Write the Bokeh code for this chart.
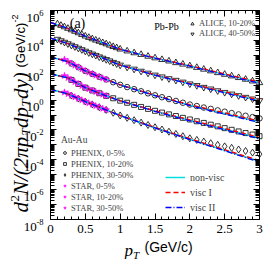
import numpy as np
from bokeh.plotting import figure
from bokeh.models import FixedTicker, LinearAxis, LogAxis, Label, Legend, LegendItem, Range1d
from bokeh.embed import file_html
from bokeh.resources import INLINE

# ---------------- data ----------------
alice_pt = [0.10, 0.15, 0.20, 0.25, 0.30, 0.35, 0.40, 0.45, 0.50, 0.55, 0.60, 0.65, 0.70, 0.75,
            0.80, 0.85, 0.90, 0.95, 1.00, 1.1, 1.2, 1.3, 1.4, 1.5, 1.6, 1.7, 1.8, 1.9, 2.0,
            2.1, 2.2, 2.3, 2.4, 2.5, 2.6, 2.7, 2.8, 2.9, 3.0]
alice_1020 = [1.26e5, 1.00e5, 7.94e4, 6.31e4, 5.01e4, 3.98e4, 3.16e4, 2.45e4, 1.91e4, 1.55e4,
              1.26e4, 1.02e4, 8.51e3, 6.92e3, 5.75e3, 4.68e3, 3.80e3, 3.16e3, 2.57e3,
              1.91e3, 1.45e3, 1.12e3, 851, 661, 513, 407, 316, 251, 195, 151, 115, 89.1,
              67.6, 52.5, 40.7, 31.6, 24.5, 18.6, 14.5]
alice_4050 = [1.20e4, 9.55e3, 7.59e3, 6.03e3, 4.79e3, 3.80e3, 3.02e3, 2.40e3, 1.91e3, 1.51e3,
              1.23e3, 1.00e3, 794, 646, 525, 427, 339, 275, 224,
              162, 120, 87.1, 64.6, 47.9, 36.3, 27.5, 21.4, 16.2, 12.3, 9.55, 7.24, 5.62,
              4.27, 3.31, 2.57, 2.00, 1.55, 1.20, 0.933]

phenix_pt = [0.3, 0.4, 0.5, 0.6, 0.7, 0.8, 0.9, 1.0, 1.1, 1.2, 1.3, 1.4, 1.5, 1.6, 1.7, 1.8,
             1.9, 2.0, 2.1, 2.2, 2.3, 2.4, 2.5, 2.6, 2.7, 2.8, 2.9, 3.0]
phenix_0005 = [282, 158, 89.1, 56.2, 36.3, 24.0, 15.8, 10.5, 7.41, 5.37, 3.89, 2.82, 2.09, 1.55,
               1.17, 0.871, 0.661, 0.501, 0.398, 0.316, 0.257, 0.204, 0.166, 0.135, 0.110,
               0.0891, 0.0724, 0.0589]
phenix_1020 = [22.4, 12.0, 6.76, 4.37, 2.88, 1.91, 1.32, 0.912, 0.661, 0.479, 0.347, 0.257,
               0.191, 0.145, 0.110, 0.0851, 0.0646, 0.0501, 0.0380, 0.0295, 0.0224, 0.0174,
               0.0132, 0.0102, 0.00794, 0.00617, 0.00490, 0.00380]
phenix_3050 = [2.00, 1.26, 0.794, 0.513, 0.331, 0.219, 0.141, 0.0933, 0.0646, 0.0447, 0.0309,
               0.0214, 0.0151, 0.0107, 0.00759, 0.00537, 0.00380, 0.00275, 0.00214, 0.00166,
               0.00129, 0.00100, 7.94e-4, 6.31e-4, 4.90e-4, 3.89e-4, 3.02e-4, 2.40e-4]

star_pt = [0.20, 0.25, 0.30, 0.35, 0.40, 0.45, 0.50, 0.55, 0.60, 0.65, 0.70, 0.75, 0.80]
star_0005 = [525, 380, 282, 209, 158, 117, 89.1, 70.8, 56.2, 44.7, 36.3, 29.5, 24.0]
star_1020 = [42.7, 30.9, 22.4, 16.2, 12.0, 8.91, 6.76, 5.37, 4.37, 3.55, 2.88, 2.34, 1.91]
star_3050 = [3.31, 2.57, 2.00, 1.58, 1.26, 1.00, 0.794, 0.631, 0.513, 0.407, 0.331, 0.269, 0.219]

model_pt = [0.0, 0.25, 0.5, 0.75, 1.0, 1.25, 1.5, 1.75, 2.0, 2.25, 2.5, 2.75, 3.0]
nonvisc_alice1020 = [1.58e5, 6.31e4, 1.91e4, 6.92e3, 2.57e3, 1.26e3, 661, 355, 195, 100, 52.5, 27.5, 14.5]
nonvisc_alice4050 = [1.41e4, 6.03e3, 1.91e3, 646, 224, 102, 47.9, 24.0, 12.3, 6.31, 3.31, 1.74, 0.891]
nonvisc_0005 = [759, 380, 89.1, 29.5, 10.5, 4.57, 2.00, 0.955, 0.457, 0.240, 0.126, 0.0661, 0.0347]
nonvisc_1020 = [56.2, 30.9, 6.76, 2.34, 0.912, 0.407, 0.182, 0.0891, 0.0437, 0.0224, 0.0112, 0.00575, 0.00282]
nonvisc_3050 = [5.25, 2.57, 0.794, 0.269, 0.0933, 0.0363, 0.0141, 0.00575, 0.00240, 0.00102, 4.27e-4, 1.82e-4, 7.94e-5]

visc1_alice1020 = [1.58e5, 6.31e4, 1.91e4, 6.92e3, 2.57e3, 1.28e3, 676, 367, 204, 106, 56.2, 29.5, 15.8]
visc1_alice4050 = [1.41e4, 6.03e3, 1.91e3, 646, 224, 104, 49.0, 25.1, 12.9, 6.76, 3.55, 1.91, 1.00]
visc1_0005 = [759, 380, 89.1, 29.5, 10.5, 4.68, 2.09, 1.00, 0.490, 0.257, 0.138, 0.0724, 0.0389]
visc1_1020 = [56.2, 30.9, 6.76, 2.34, 0.912, 0.417, 0.191, 0.0933, 0.0468, 0.0240, 0.0123, 0.00631, 0.00316]
visc1_3050 = [5.25, 2.57, 0.794, 0.269, 0.0933, 0.0372, 0.0148, 0.00603, 0.00257, 0.00110, 4.68e-4, 2.00e-4, 8.91e-5]

visc2_alice1020 = [1.58e5, 6.31e4, 1.91e4, 6.92e3, 2.54e3, 1.24e3, 646, 344, 186, 95.5, 49.0, 25.1, 13.2]
visc2_alice4050 = [1.41e4, 6.03e3, 1.91e3, 646, 221, 100, 46.8, 23.4, 11.7, 5.89, 3.02, 1.58, 0.813]
visc2_0005 = [759, 380, 89.1, 29.5, 10.2, 4.47, 1.95, 0.912, 0.427, 0.219, 0.115, 0.0603, 0.0309]
visc2_1020 = [56.2, 30.9, 6.76, 2.34, 0.891, 0.398, 0.174, 0.0832, 0.0407, 0.0204, 0.0102, 0.00513, 0.00251]
visc2_3050 = [5.25, 2.57, 0.794, 0.269, 0.0912, 0.0355, 0.0135, 0.00550, 0.00224, 9.55e-4, 3.98e-4, 1.66e-4, 7.08e-5]

x_major = [0, 0.5, 1, 1.5, 2, 2.5, 3]
x_labels = ["0", "0.5", "1", "1.5", "2", "2.5", "3"]
y_label_exps = [6, 4, 2, 0, -2, -4, -6, -8]

SERIF = "Liberation Serif"
SANS = "Liberation Sans"
CYAN = "#00dede"
RED = "#ff0000"
BLUE = "#0000ff"
MAG = "#ff00ff"

# ---------------- geometry: plot box inside a full-canvas frame ----------------
W, H = 266, 259
BOX_L, BOX_R, BOX_T, BOX_B = 50, 259, 10, 219      # pixel edges of the drawn plot box
XMIN, XMAX = 0.0, 3.0
YMIN_E, YMAX_E = -8, 6
ppx = (BOX_R - BOX_L) / (XMAX - XMIN)
ppd = (BOX_B - BOX_T) / (YMAX_E - YMIN_E)
x_range = Range1d(XMIN - BOX_L / ppx, XMAX + (W - BOX_R) / ppx)
y_range = Range1d(10 ** (YMIN_E - (H - BOX_B) / ppd), 10 ** (YMAX_E + BOX_T / ppd))

p = figure(width=W, height=H, x_range=x_range, y_range=y_range, y_axis_type="log",
           output_backend="svg", toolbar_location=None,
           min_border_left=0, min_border_right=0, min_border_top=0, min_border_bottom=0)
p.outline_line_color = None
p.grid.visible = False
p.background_fill_color = "white"

x_minor = [round(0.1 * i, 2) for i in range(31) if i % 5 != 0]
y_major = [10.0 ** e for e in range(YMIN_E, YMAX_E + 1)]
y_minor = [m * 10.0 ** e for e in range(YMIN_E, YMAX_E) for m in range(2, 10)]
xt = FixedTicker(ticks=x_major, minor_ticks=x_minor)
yt = FixedTicker(ticks=y_major, minor_ticks=y_minor)

bottom_ax = p.xaxis[0]
left_ax = p.yaxis[0]
top_ax = LinearAxis()
right_ax = LogAxis()
p.add_layout(top_ax, "above")
p.add_layout(right_ax, "right")

bottom_ax.fixed_location = 10.0 ** YMIN_E
top_ax.fixed_location = 10.0 ** YMAX_E
left_ax.fixed_location = XMIN
right_ax.fixed_location = XMAX
for ax in [bottom_ax, top_ax]:
    ax.ticker = xt
    ax.bounds = (XMIN, XMAX)
for ax in [left_ax, right_ax]:
    ax.ticker = yt
    ax.bounds = (10.0 ** YMIN_E, 10.0 ** YMAX_E)

for ax in [bottom_ax, top_ax, left_ax, right_ax]:
    ax.major_tick_in = 6
    ax.major_tick_out = 0
    ax.minor_tick_in = 3
    ax.minor_tick_out = 0
    ax.axis_line_color = "black"
    ax.axis_line_width = 1
    ax.major_tick_line_color = "black"
    ax.minor_tick_line_color = "black"
left_ax.minor_tick_in = 4
right_ax.minor_tick_in = 4

bottom_ax.major_label_overrides = {k: v for k, v in zip(x_major, x_labels)}
bottom_ax.major_label_text_font = SERIF
bottom_ax.major_label_text_font_size = "13px"
bottom_ax.major_label_text_color = "black"
bottom_ax.major_label_standoff = 5
for ax in [top_ax, left_ax, right_ax]:
    ax.major_label_text_font_size = "1px"
    ax.major_label_text_color = None
    ax.major_label_standoff = 0

# ---------------- data markers ----------------
mk = dict(fill_color=None, line_color="black", line_width=0.8)
r_a1 = p.scatter(alice_pt, alice_1020, marker="triangle", size=6.5, **mk)
r_a2 = p.scatter(alice_pt, alice_4050, marker="inverted_triangle", size=6.5, **mk)
r_p1 = p.scatter(phenix_pt, phenix_0005, marker="circle", size=5.5, **mk)
r_p2 = p.scatter(phenix_pt, phenix_1020, marker="square", size=5, **mk)
r_p3 = p.scatter(phenix_pt, phenix_3050, marker="diamond", size=7, **mk)
sk = dict(marker="star", size=7, fill_color=MAG, line_color=MAG, line_width=0.5)
r_s1 = p.scatter(star_pt, star_0005, **sk)
r_s2 = p.scatter(star_pt, star_1020, **sk)
r_s3 = p.scatter(star_pt, star_3050, **sk)

# ---------------- model curves ----------------
nv = [nonvisc_alice1020, nonvisc_alice4050, nonvisc_0005, nonvisc_1020, nonvisc_3050]
v1 = [visc1_alice1020, visc1_alice4050, visc1_0005, visc1_1020, visc1_3050]
v2 = [visc2_alice1020, visc2_alice4050, visc2_0005, visc2_1020, visc2_3050]
r_nv = r_v1 = r_v2 = None
for a, b, c in zip(nv, v1, v2):
    l0 = p.line(model_pt, a, line_color=CYAN, line_width=1.5)
    l1 = p.line(model_pt, b, line_color=RED, line_width=1.5, line_dash="5 3")
    l2 = p.line(model_pt, c, line_color=BLUE, line_width=1.3, line_dash="6 2 1 2")
    if r_nv is None:
        r_nv, r_v1, r_v2 = l0, l1, l2

# ---------------- legends (locations in canvas pixels, from bottom-left) ----------------
common = dict(background_fill_alpha=0, border_line_alpha=0, padding=1, margin=0,
              label_text_font=SERIF, orientation="vertical")
leg_alice = Legend(items=[LegendItem(label="ALICE, 10-20%", renderers=[r_a1]),
                          LegendItem(label="ALICE, 40-50%", renderers=[r_a2])],
                   location=(187, 220), glyph_width=8, glyph_height=9, label_height=9,
                   spacing=0, label_standoff=3, label_text_font_size="8.5px", **common)
leg_auau = Legend(items=[LegendItem(label="PHENIX, 0-5%", renderers=[r_p1]),
                         LegendItem(label="PHENIX, 10-20%", renderers=[r_p2]),
                         LegendItem(label="PHENIX, 30-50%", renderers=[r_p3]),
                         LegendItem(label="STAR, 0-5%", renderers=[r_s1]),
                         LegendItem(label="STAR, 10-20%", renderers=[r_s2]),
                         LegendItem(label="STAR, 30-50%", renderers=[r_s3])],
                  location=(60, 45), glyph_width=7, glyph_height=11, label_height=11,
                  spacing=0, label_standoff=3, label_text_font_size="8.5px",
                  title="Au-Au", title_text_font=SERIF, title_text_font_size="9.5px",
                  title_text_font_style="normal", title_standoff=2, **common)
leg_model = Legend(items=[LegendItem(label="non-visc", renderers=[r_nv]),
                          LegendItem(label="visc I", renderers=[r_v1]),
                          LegendItem(label="visc II", renderers=[r_v2])],
                   location=(164, 44), glyph_width=20, glyph_height=14, label_height=14,
                   spacing=1, label_standoff=5, label_text_font_size="10px", **common)
for lg in [leg_alice, leg_auau, leg_model]:
    p.add_layout(lg)


def lab(x, y, xo, yo, text, size, font=SERIF, style="normal", align="left",
        baseline="alphabetic", angle=0.0):
    p.add_layout(Label(x=x, y=y, x_offset=xo, y_offset=yo, text=text, text_font=font,
                       text_font_size=size, text_font_style=style, text_align=align,
                       text_baseline=baseline, angle=angle, text_color="black"))


# y tick labels: "10" with superscript exponent
for e in y_label_exps:
    sup = str(e)
    supw = 4.0 * len(str(abs(e))) + (2.7 if e < 0 else 0)
    lab(XMIN, 10.0 ** e, -7 - supw, -7, "10", "13px", align="right")
    lab(XMIN, 10.0 ** e, -7, -2, sup, "8.5px", align="right")

# annotations inside the box
lab(XMIN, 10.0 ** YMAX_E, 27, -13, "(a)", "14px", align="center")
lab(XMIN, 10.0 ** YMAX_E, 116, -15.5, "Pb-Pb", "10px", align="center")

# x-axis title
lab(XMIN, 10.0 ** YMIN_E, 74, -31, "p", "17px", style="italic")
lab(XMIN, 10.0 ** YMIN_E, 82.5, -35, "T", "11px", style="italic")
lab(XMIN, 10.0 ** YMIN_E, 94, -27, "(GeV/c)", "14px", font=SANS)

# y-axis title (rotated pieces)
A = np.pi / 2
base, supx, subx = -30, -36, -25
pieces = [
    ("d", "21px", SERIF, "italic", base, 7),
    ("2", "13px", SERIF, "normal", supx, 18),
    ("N/(2\u03c0p", "21px", SERIF, "italic", base, 24.5),
    ("T", "13px", SERIF, "italic", subx, 84),
    ("dp", "21px", SERIF, "italic", base, 91.5),
    ("T", "13px", SERIF, "italic", subx, 113),
    ("dy)", "21px", SERIF, "italic", base, 120.5),
    ("(GeV/c)", "13px", SANS, "normal", base, 152),
    ("-2", "9px", SANS, "normal", supx, 197),
]
for t, sz, f, st, xo, yo in pieces:
    lab(XMIN, 10.0 ** YMIN_E, xo, yo, t, sz, font=f, style=st, angle=A)

open("out.html", "w").write(file_html(p, INLINE))
